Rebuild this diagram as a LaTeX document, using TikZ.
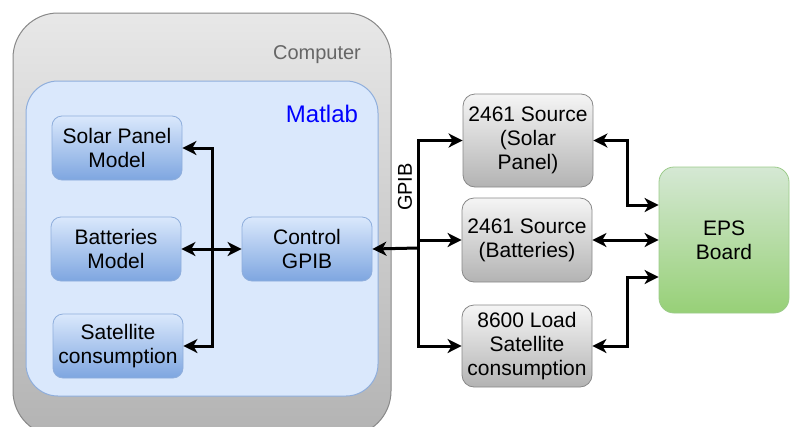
\documentclass[tikz,border=0pt]{standalone}
\usepackage{fontspec}
\setmainfont{Liberation Sans}
\usetikzlibrary{arrows.meta}
\definecolor{blueTop}{HTML}{DAE8FC}
\definecolor{blueBot}{HTML}{7EA6E0}
\definecolor{blueLine}{HTML}{8FAEDC}
\definecolor{grayTop}{HTML}{F5F5F5}
\definecolor{grayBot}{HTML}{B3B3B3}
\definecolor{grayLine}{HTML}{888888}
\definecolor{greenTop}{HTML}{D5E8D4}
\definecolor{greenBot}{HTML}{97D077}
\definecolor{greenLine}{HTML}{9CCB8A}

\begin{document}
\begin{tikzpicture}[x=1pt,y=-1pt,>={Stealth[length=14pt,width=14pt,inset=4pt]},
       every node/.style={font=\fontsize{21}{24}\selectfont,align=center,inner sep=2pt},
       computerbox/.style={draw=grayLine,line width=1pt,rounded corners=45pt,top color=grayTop!80!grayBot,bottom color=grayBot,minimum width=378pt,minimum height=423pt},
       matlabbox/.style={draw=blueLine,line width=1pt,rounded corners=32pt,fill=blueTop,minimum width=352pt,minimum height=315pt},
       model/.style={draw=blueLine,line width=0.8pt,rounded corners=10pt,top color=blueTop,bottom color=blueBot,minimum width=130pt,minimum height=64pt},
       instr/.style={draw=grayLine,line width=0.8pt,rounded corners=12pt,top color=grayTop,bottom color=grayBot,minimum width=130pt},
       board/.style={draw=greenLine,line width=0.8pt,rounded corners=15pt,top color=greenTop,bottom color=greenBot,minimum width=130pt,minimum height=146pt},
       link/.style={draw=black,line width=3pt}]
    \useasboundingbox (0,0) rectangle (797,426);
    \node[computerbox] (computer) at (202,224.5) {};
    \node[text=black!60,font=\fontsize{20}{24}\selectfont] (computerlabel) at (317,55) {Computer};
    \node[matlabbox] (matlab) at (202,238.5) {};
    \node[text=blue,font=\fontsize{24}{28}\selectfont] (matlablabel) at (322,114) {Matlab};

    \node[model] (solar) at (117,148) {Solar Panel\\Model};
    \node[model] (batt) at (116,249) {Batteries\\Model};
    \node[model] (sat) at (118,346) {Satellite\\consumption};
    \node[model] (control) at (307,249) {Control\\GPIB};

    \node[instr,minimum height=93pt] (srcsolar) at (528,140.5) {2461 Source\\(Solar\\Panel)};
    \node[instr,minimum height=84pt] (srcbatt) at (527,240) {2461 Source\\(Batteries)};
    \node[instr,minimum height=82pt] (load) at (527,346) {8600 Load\\Satellite\\consumption};
    \node[board] (eps) at (724,240) {EPS\\Board};

    \coordinate (bus) at (212,249);
    \coordinate (gpib) at (418,248);
    \draw[link,<->] (solar.east) -| (bus) |- (sat.east);
    \draw[link,<->] (batt.east) -- (control.west);
    \draw[link,->] (gpib) -- (control.east);
    \draw[link,->] (gpib) |- (srcsolar.west);
    \draw[link,->] (gpib |- srcbatt.west) -- (srcbatt.west);
    \draw[link,->] (gpib) |- (load.west);
    \node[rotate=90,font=\fontsize{20}{24}\selectfont] (gpiblabel) at (405,187) {GPIB};

    \draw[link,<->] (srcsolar.east) -- ++(34,0) |- ([yshift=35pt]eps.west);
    \draw[link,<->] (srcbatt.east) -- (eps.west);
    \draw[link,<->] (load.east) -- ++(35,0) |- ([yshift=-37pt]eps.west);
\end{tikzpicture}
\end{document}
